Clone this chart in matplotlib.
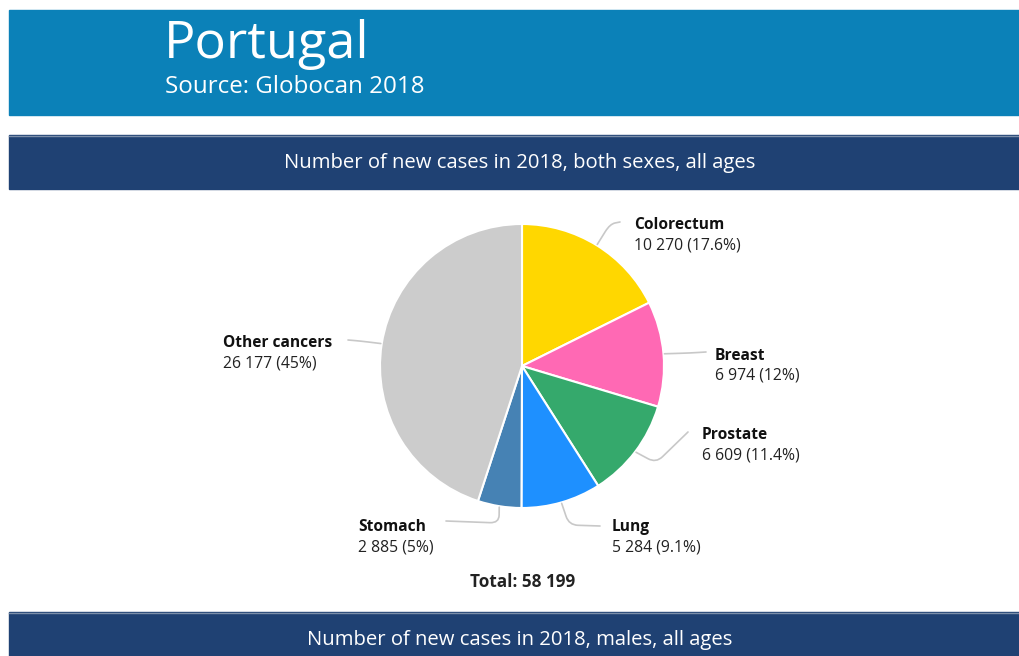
import numpy as np
import matplotlib
matplotlib.use("Agg")
import matplotlib.pyplot as plt
from matplotlib.patches import Rectangle, PathPatch
from matplotlib.path import Path

plt.rcParams['font.family'] = ['Open Sans', 'DejaVu Sans']

# Data
cancers = ["Colorectum", "Breast", "Prostate", "Lung", "Stomach", "Other cancers"]
new_cases = [10270, 6974, 6609, 5284, 2885, 26177]
colors = ["#FFD700", "#FF69B4", "#35A96C", "#1E90FF", "#4682B4", "#CCCCCC"]

country = "Portugal"
source = "Source: Globocan 2018"
panel_title = "Number of new cases in 2018, both sexes, all ages"
next_panel_title = "Number of new cases in 2018, males, all ages"

W, H = 1019, 656
fig = plt.figure(figsize=(W / 100, H / 100), dpi=100)
ax = fig.add_axes([0, 0, 1, 1])


def fmt_num(v):
    return f"{v:,}".replace(",", " ")


def fmt_pct(p):
    s = f"{p:.1f}"
    if s.endswith(".0"):
        s = s[:-2]
    return s + "%"


def rounded_connector(p0, p1, p2, rad=8):
    """Polyline p0-p1-p2 with a rounded corner at p1."""
    p0, p1, p2 = map(np.asarray, (p0, p1, p2))
    d0 = np.linalg.norm(p0 - p1)
    d2 = np.linalg.norm(p2 - p1)
    t0 = min(rad / d0, 0.5) if d0 else 0
    t2 = min(rad / d2, 0.5) if d2 else 0
    a = p1 + (p0 - p1) * t0
    b = p1 + (p2 - p1) * t2
    verts = [p0, a, p1, b, p2]
    codes = [Path.MOVETO, Path.LINETO, Path.CURVE3, Path.CURVE3, Path.LINETO]
    return Path(verts, codes)


# Header banners
ax.add_patch(Rectangle((9, 10), W - 9, 105, color="#0B81B8", zorder=1))
ax.add_patch(Rectangle((9, 135), W - 9, 54, color="#1F4173", zorder=1))
ax.plot([9, W], [135.5, 135.5], color="#7C8FAA", lw=1, zorder=2)
ax.add_patch(Rectangle((9, 612), W - 9, 50, color="#1F4173", zorder=1))
ax.plot([9, W], [612.5, 612.5], color="#7C8FAA", lw=1, zorder=2)

ax.text(164, 45, country, color="white", fontsize=37.6, va="center", ha="left")
ax.text(165, 87, source, color="white", fontsize=17.4, va="center", ha="left")
ax.text(520, 163, panel_title, color="white", fontsize=14.6, va="center", ha="center")
ax.text(520, 640, next_panel_title, color="white", fontsize=14.6, va="center", ha="center")

# Pie (y axis points down, so start at -90 to begin at the top and run clockwise on screen)
cx, cy, r = 522, 366, 142
wedges, _ = ax.pie(new_cases, colors=colors, center=(cx, cy), radius=r,
                   startangle=-90, counterclock=True, frame=True,
                   wedgeprops=dict(edgecolor="white", linewidth=1.5))

total = sum(new_cases)
fractions = np.array(new_cases) / total
mids = np.cumsum(fractions) - fractions / 2

# Label anchors (left edge of text block) and connector elbows, in screen pixels
label_pos = [(634, 225), (715, 356), (702, 435), (612, 527), (358, 527), (223, 343)]
elbows = [
    [(610, 224), (620, 222)],
    [(690, 353), (706, 352)],
    [(656, 463), (688, 432)],
    [(569, 525), (600, 526)],
    [(499, 523), (446, 521)],
    [(360, 341), (348, 340)],
]

for i, (name, val) in enumerate(zip(cancers, new_cases)):
    a = 2 * np.pi * mids[i]
    px = cx + (r + 1) * np.sin(a)
    py = cy - (r + 1) * np.cos(a)
    path = rounded_connector((px, py), elbows[i][0], elbows[i][1], rad=9)
    ax.add_patch(PathPatch(path, facecolor="none", edgecolor="#C8C8C8", lw=1.2,
                           zorder=3, capstyle="round", joinstyle="round"))
    lx, ly = label_pos[i]
    ax.text(lx, ly, name, fontsize=11.2, fontweight="bold", color="#111111",
            ha="left", va="center")
    ax.text(lx, ly + 20, f"{fmt_num(val)} ({fmt_pct(100 * fractions[i])})",
            fontsize=11.3, color="#222222", ha="left", va="center")

ax.text(cx + 1, 582, f"Total: {fmt_num(total)}", fontsize=12.3, fontweight="bold",
        color="#222222", ha="center", va="center")

ax.set_xlim(0, W)
ax.set_ylim(H, 0)
ax.set_aspect("equal")
ax.axis("off")

fig.savefig("out.png", dpi=100, facecolor="white")
